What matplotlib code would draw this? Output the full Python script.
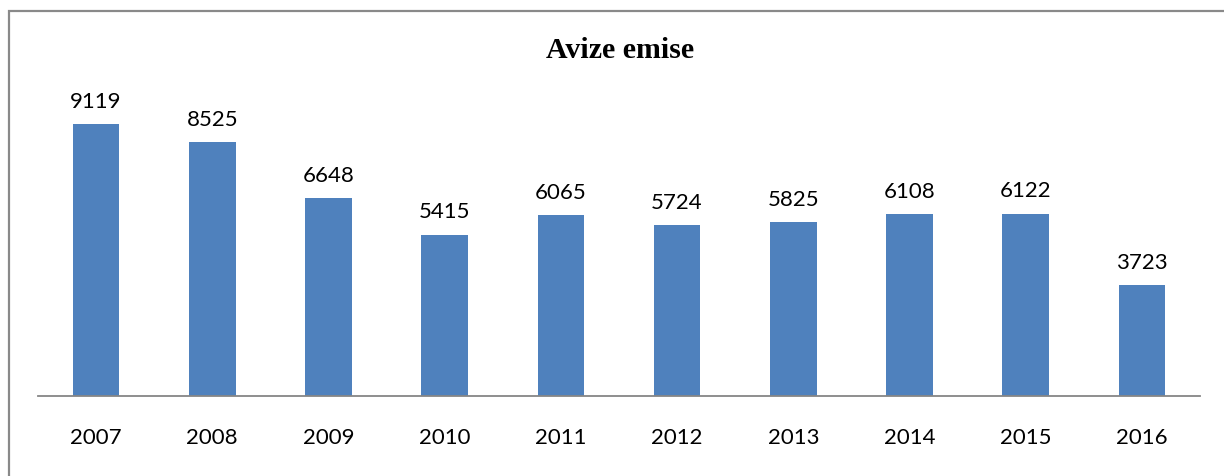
import matplotlib
matplotlib.use("Agg")
import matplotlib.pyplot as plt
from matplotlib.lines import Line2D

years = ["2007", "2008", "2009", "2010", "2011", "2012", "2013", "2014", "2015", "2016"]
values = [9119, 8525, 6648, 5415, 6065, 5724, 5825, 6108, 6122, 3723]

W, H = 1224, 477
fig = plt.figure(figsize=(W / 100, H / 100), dpi=100)
fig.patch.set_facecolor("white")

ax_left, ax_right = 38 / W, 1200 / W
ax_bottom, ax_top = (H - 397) / H, (H - 99) / H
ax = fig.add_axes([ax_left, ax_bottom, ax_right - ax_left, ax_top - ax_bottom])

x = list(range(len(years)))
bars = ax.bar(x, values, width=0.4, color="#4F81BD", zorder=2)
ax.set_xlim(-0.5, len(years) - 0.5)
ax.set_ylim(0, 10000)

for xi, v in zip(x, values):
    ax.annotate(str(v), (xi, v), xytext=(0, 12.5), textcoords="offset points",
                ha="center", va="baseline", fontsize=16, family="Lato", color="black")

ax.set_xticks(x)
ax.set_xticklabels(years, fontsize=16, family="Lato", color="black")
ax.tick_params(axis="x", length=0, pad=22)
ax.set_yticks([])
for s in ["top", "right", "left"]:
    ax.spines[s].set_visible(False)
ax.spines["bottom"].set_color("#868686")
ax.spines["bottom"].set_linewidth(1.3)
ax.patch.set_visible(False)

fig.text(620 / W, (H - 58) / H, "Avize emise", ha="center", va="baseline",
         fontsize=21.5, fontweight="bold", family="Liberation Serif", color="black")

# outer chart border (partially visible: top and left)
border = Line2D([9 / W, 9 / W, 1.0], [0.0, (H - 12) / H, (H - 12) / H],
                transform=fig.transFigure, color="#898989", linewidth=1.6,
                solid_joinstyle="miter")
fig.add_artist(border)

fig.savefig("out.png", dpi=100, facecolor="white")
